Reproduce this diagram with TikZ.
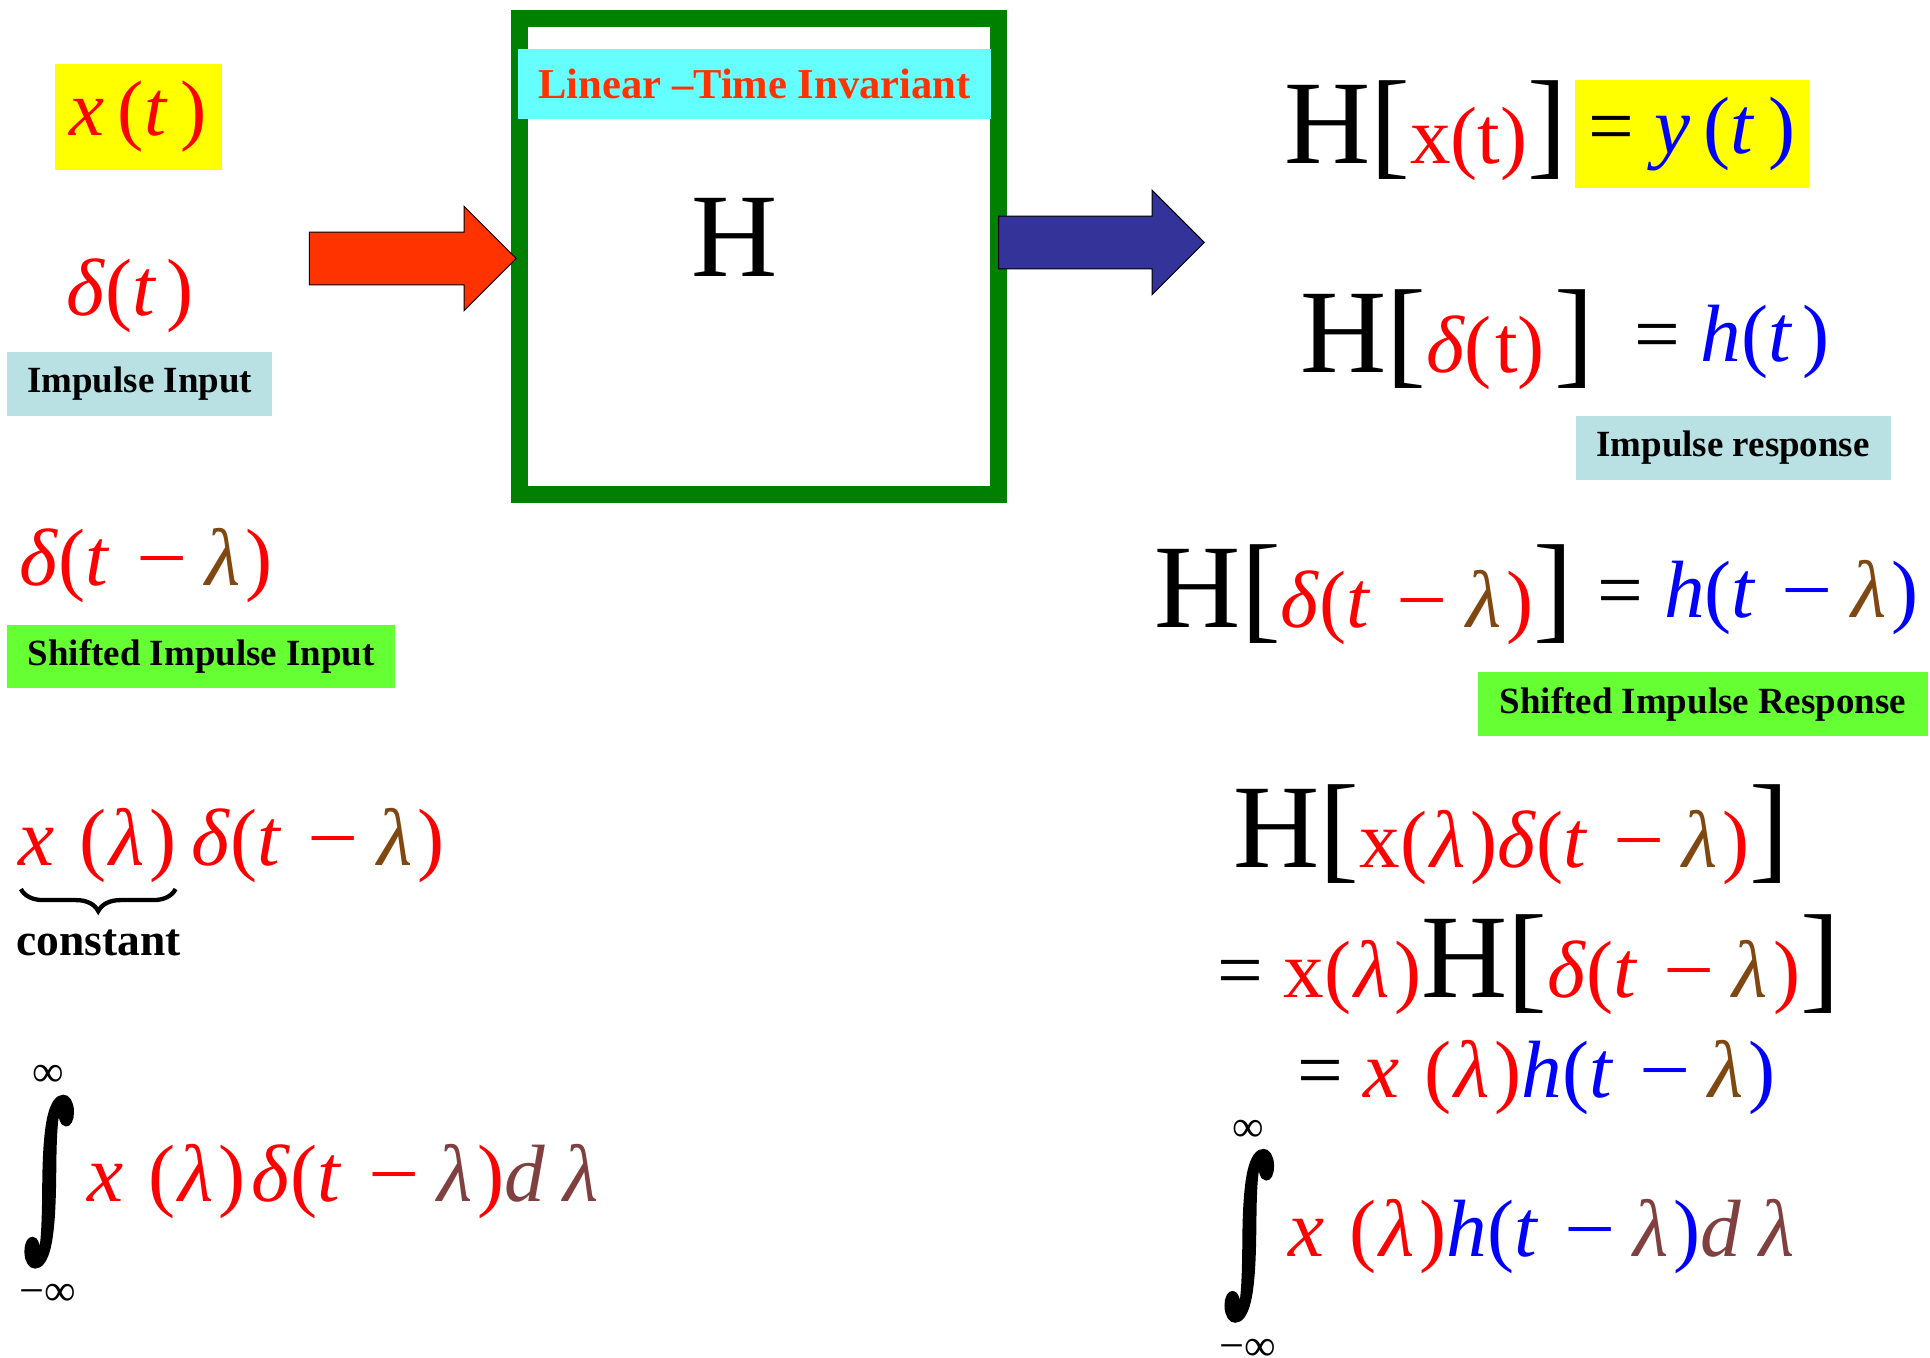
\documentclass[tikz,border=0pt]{standalone}
\usepackage{fontspec}
\setmainfont{Liberation Serif}
\newfontfamily\intfont[FakeBold=5]{DejaVu Serif}
\usepackage{graphicx}
\usepackage{xcolor}
\usetikzlibrary{arrows.meta,positioning,calc,shapes.arrows,decorations.pathreplacing}
\definecolor{eqred}{RGB}{255,0,0}
\definecolor{eqblue}{RGB}{0,0,255}
\definecolor{lamcol}{RGB}{128,72,16}
\definecolor{dlamcol}{RGB}{128,64,64}
\definecolor{ltigreen}{RGB}{0,128,0}
\definecolor{inred}{RGB}{255,51,0}
\definecolor{outblue}{RGB}{51,51,153}
\definecolor{tagblue}{RGB}{185,224,227}
\definecolor{taggreen}{RGB}{102,255,51}
\definecolor{tagcyan}{RGB}{102,255,255}
\definecolor{hiyellow}{RGB}{255,255,0}
\newcommand{\eqfont}{\fontsize{66}{70}\selectfont}
\newcommand{\bigfont}{\fontsize{97}{100}\selectfont}
\newcommand{\tagfont}{\fontsize{30}{34}\selectfont\bfseries}
\newcommand{\inffont}{\fontsize{36}{40}\selectfont}
\newcommand{\Hop}{{\bigfont H}}
\newcommand{\lbrk}{{\bigfont[}}
\newcommand{\rbrk}{{\bigfont]}}
\newcommand{\blam}{\textcolor{lamcol}{\textit{λ}}}
\newcommand{\mlam}{\textcolor{dlamcol}{\textit{λ}}}
\newcommand{\mi}{\kern0.32em\scalebox{1.12}[1]{−}\kern0.22em}
\newcommand{\xlam}{\textit{x}\kern0.3em(\kern0.04em\textit{λ}\kern0.06em)}
\newcommand{\intsign}{\resizebox*{40pt}{134pt}{\intfont ∫}}
\tikzset{
  eq/.style={inner sep=0pt,anchor=base west,font=\eqfont},
  tag/.style={inner sep=0pt,font=\tagfont,text=black},
  hilite/.style={inner sep=0pt,fill=hiyellow,font=\eqfont},
  inf/.style={inner sep=0pt,font=\inffont},
  blockarr/.style={single arrow,draw=black,line width=0.8pt,inner xsep=0pt,inner ysep=21pt,
    single arrow head indent=0pt,minimum width=84pt,single arrow head extend=21pt,
    minimum height=168pt},
}

\begin{document}
\begin{tikzpicture}[x=1pt,y=-1pt]
\useasboundingbox (0,0) rectangle (1568,1103);
% the system box
\node[draw=ltigreen,line width=14pt,minimum width=389pt,minimum height=387pt,inner sep=0pt] (lti) at (616.5,208.5) {};
\node[tag,fill=tagcyan,text=inred,font=\fontsize{34.6}{38}\selectfont\bfseries,
  minimum width=385pt,minimum height=57pt] (ltitag) at (613,68) {Linear –Time Invariant};
\node[inner sep=0pt,font=\bigfont] (Hbox) at (597,193) {H};
\node[blockarr,fill=inred,anchor=tip] (inarr) at ($(lti.west)+(5,1.5)$) {};
\node[blockarr,fill=outblue,anchor=tail,minimum height=167pt] (outarr) at ($(lti.east)+(-7,-11.5)$) {};

% left column
\node[hilite,minimum width=135pt,minimum height=86pt] (xt) at (112.5,95)
  {\fontsize{64}{70}\selectfont\color{eqred}\textit{x}\,(\textit{t}\,)};
\node[eq] (dt) at (54,256) {\color{eqred}\textit{δ}(\textit{t}\kern0.12em)};
\node[tag,fill=tagblue,minimum width=215pt,minimum height=52pt] (impin) at (113.5,312) {Impulse Input};
\node[eq] (dtl) at (16,476) {\color{eqred}\textit{δ}(\textit{t}\mi\blam\kern0.06em)};
\node[tag,fill=taggreen,minimum width=315pt,minimum height=51pt] (shin) at (163.5,533.5) {Shifted Impulse Input};
\node[eq] (xl) at (15,703) {\color{eqred}\xlam};
\node[eq] (dl) at ([xshift=12pt]xl.base east) {\color{eqred}\textit{δ}(\textit{t}\mi\blam\kern0.06em)};
\draw[line width=3.5pt,decorate,decoration={brace,mirror,amplitude=18pt}]
  ($(xl.south west)+(2,5)$) -- ($(xl.south east)+(-1,5)$);
\node[tag,font=\fontsize{37}{40}\selectfont\bfseries] (const) at (80,766) {constant};
\node[inf] (infl) at (39,874) {∞};
\node[inner sep=0pt] (intl) at (40,960) {\intsign};
\node[inf] (minfl) at (39,1052) {−∞};
\node[eq] (intlx) at (71,976)
  {\color{eqred}\xlam\kern0.08em\textit{δ}(\textit{t}\mi\mlam\kern0.06em)\textcolor{dlamcol}{\textit{d}\kern0.22em\textit{λ}}};

% right column
\node[eq] (Hx) at (1043,133) {\Hop\lbrk\textcolor{eqred}{x(t)}\rbrk};
\node[hilite,minimum width=190pt,minimum height=88pt] (yt) at (1374.5,109)
  {= \textcolor{eqblue}{\textit{y}\,(\textit{t}\,)}};
\node[eq] (Hd) at (1056,303) {\Hop\lbrk\textcolor{eqred}{\textit{δ}(\kern0.04em t)}\kern0.12em\rbrk};
\node[eq] (ht) at (1328,294) {= \textcolor{eqblue}{\textit{h}(\textit{t}\kern0.12em)}};
\node[tag,fill=tagblue,minimum width=256pt,minimum height=52pt] (impresp) at (1408,364) {Impulse response};
\node[eq] (Hdl) at (938,510) {\Hop\lbrk\textcolor{eqred}{\textit{δ}(\textit{t}\mi\blam\kern0.06em)}\rbrk};
\node[eq] (hdl) at (1298,502) {= \textcolor{eqblue}{\textit{h}(\textit{t}\mi\blam\kern0.06em)}};
\node[tag,fill=taggreen,minimum width=365pt,minimum height=52pt] (shresp) at (1383.5,572) {Shifted Impulse Response};
\node[eq] (Hxd) at (1002,705)
  {\Hop\lbrk\textcolor{eqred}{x(\kern0.04em\textit{λ}\kern0.06em)\textit{δ}(\textit{t}\mi\blam\kern0.06em)}\rbrk};
\node[eq] (eqb) at (989,810)
  {= \textcolor{eqred}{x(\kern0.04em\textit{λ}\kern0.06em)}\Hop\lbrk\textcolor{eqred}{\textit{δ}(\textit{t}\mi\blam\kern0.06em)}\rbrk};
\node[eq] (eqc) at (1054,892)
  {= \textcolor{eqred}{\xlam}\textcolor{eqblue}{\textit{h}(\textit{t}\mi\blam\kern0.06em)}};
\node[inf] (infr) at (1014,919) {∞};
\node[inner sep=0pt] (intr) at (1015,1004) {\intsign};
\node[inf] (minfr) at (1014,1097) {−∞};
\node[eq] (intrx) at (1047,1021)
  {\textcolor{eqred}{\xlam}\textcolor{eqblue}{\textit{h}(\textit{t}\mi\mlam\kern0.06em)}\textcolor{dlamcol}{\textit{d}\kern0.22em\textit{λ}}};
\end{tikzpicture}
\end{document}
